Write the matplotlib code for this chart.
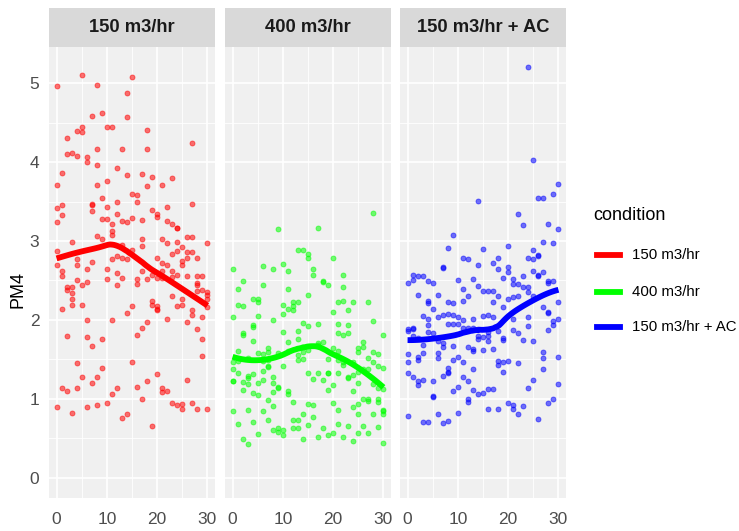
import numpy as np
import matplotlib
matplotlib.use("Agg")
import matplotlib.pyplot as plt
from matplotlib.lines import Line2D

# ---- data: PM4 readings over time (minutes) for each ventilation condition ----
conditions = ["150 m3/hr", "400 m3/hr", "150 m3/hr + AC"]
colors = ["#FF0000", "#00FF00", "#0000FF"]

time_150 = [5, 15, 0, 8, 14, 7, 9, 14, 10, 11, 4, 5, 5, 18, 2, 27, 8, 13, 18, 2, 3, 4, 6, 6,
            1, 8, 12, 14, 17, 19, 23, 0, 8, 10, 18, 21, 15, 16, 9, 0, 1, 7, 7, 10, 12, 16, 22, 27,
            1, 7, 12, 19, 20, 20, 0, 9, 10, 11, 13, 14, 15, 17, 22, 23, 24, 24, 11, 11, 8, 9, 17,
            21, 26, 27, 3, 22, 24, 30, 17, 0, 13, 15, 25, 24, 26, 27, 23, 20, 12, 13, 14, 11, 4,
            7, 0, 4, 21, 22, 25, 26, 28, 25,
            1, 1, 6, 10, 12, 17, 19, 21, 23, 24, 26, 28, 29, 4, 6, 5, 2, 2, 3, 3, 3, 3, 5, 10, 12,
            13, 16, 16, 18, 20, 21, 23, 28, 28, 29, 28, 30, 30, 30, 30, 23, 25, 25, 24, 19, 19, 20,
            20, 20, 15, 14, 1, 6, 11, 18, 17, 16, 22, 26, 27, 27, 29, 28, 29, 29, 2, 6, 7, 9, 4, 5,
            8, 7, 9, 15, 20, 18, 16, 21, 21, 22, 26, 1, 2, 4, 11, 12, 0, 3, 6, 8, 10, 13, 14, 17,
            19, 23, 24, 25, 25, 27, 28, 30]
pm4_150 = [5.11, 5.08, 4.96, 4.98, 4.88, 4.59, 4.62, 4.57, 4.44, 4.45, 4.40, 4.44, 4.38, 4.41,
           4.30, 4.24, 4.16, 4.16, 4.16, 4.10, 4.11, 4.08, 4.06, 4.00, 3.86, 3.96, 3.92, 3.84,
           3.85, 3.81, 3.80, 3.71, 3.71, 3.76, 3.70, 3.71, 3.60, 3.58, 3.54, 3.42, 3.46, 3.47,
           3.46, 3.43, 3.49, 3.49, 3.43, 3.47, 3.33, 3.38, 3.34, 3.39, 3.34, 3.30, 3.24, 3.28,
           3.28, 3.22, 3.25, 3.24, 3.29, 3.26, 3.25, 3.22, 3.17, 3.16, 3.12, 3.08, 3.06, 3.03,
           3.02, 3.02, 3.05, 3.05, 2.99, 2.97, 2.99, 2.98, 2.94, 2.87, 2.95, 2.88, 2.92, 2.87,
           2.86, 2.86, 2.84, 2.79, 2.81, 2.79, 2.77, 2.77, 2.77, 2.73, 2.70, 2.70, 2.72, 2.69,
           2.74, 2.78, 2.78, 2.69,
           2.62, 2.55, 2.64, 2.64, 2.60, 2.62, 2.57, 2.62, 2.62, 2.57, 2.56, 2.55, 2.56, 2.51,
           2.48, 2.44, 2.41, 2.38, 2.41, 2.34, 2.27, 2.19, 2.19, 2.52, 2.44, 2.53, 2.52, 2.46,
           2.52, 2.53, 2.53, 2.54, 2.47, 2.44, 2.38, 2.36, 2.35, 2.32, 2.27, 2.16, 2.30, 2.27,
           2.19, 2.18, 2.24, 2.19, 2.17, 2.14, 2.12, 2.17, 2.09, 2.14, 2.00, 2.00, 1.97, 1.90,
           1.81, 2.01, 1.97, 2.12, 2.06, 2.03, 1.88, 1.76, 1.54, 1.80, 1.78, 1.67, 1.76, 1.45,
           1.27, 1.28, 1.20, 1.39, 1.46, 1.31, 1.23, 1.15, 1.14, 1.09, 1.10, 1.24, 1.13, 1.10,
           1.14, 1.06, 1.13, 0.89, 0.82, 0.90, 0.92, 0.94, 0.75, 0.81, 1.00, 0.65, 0.95, 0.92,
           0.93, 0.87, 0.95, 0.87, 0.87]

time_400 = [28, 9, 17, 13, 14, 15, 15, 20, 0, 6, 8, 10, 11, 16, 16, 22, 2, 6, 18, 18, 19, 1, 11,
            22, 15, 4, 5, 5, 1, 2, 10, 12, 13, 12, 12, 11, 10, 21, 22, 24, 23, 27, 20, 0, 5, 8,
            28, 4, 4, 14, 15, 17, 21, 23, 13, 10, 2, 2, 21, 22, 23, 30, 4, 11, 13, 26, 1, 7, 7, 5,
            9, 11, 14, 15, 17, 17, 18, 20, 21, 25, 26, 28, 29, 3, 6, 6, 7, 10, 13, 14, 19, 13, 25,
            27, 28, 29, 30, 0, 0, 1, 1, 0, 0, 2, 2, 3, 3, 3, 4, 4, 5, 5, 6, 6, 7, 7, 8, 8, 8, 9, 9,
            11, 11, 15, 16, 17, 18, 19, 19, 20, 19, 21, 22, 23, 23, 24, 24, 25, 25, 26, 27, 24,
            21, 22, 28, 29, 30, 0, 1, 3, 4, 5, 6, 7, 8, 7, 8, 9, 9, 10, 10, 12, 12, 12, 13, 13,
            14, 14, 15, 15, 16, 16, 17, 18, 19, 20, 20, 21, 21, 22, 23, 24, 24, 25, 25, 25, 26,
            26, 27, 27, 27, 28, 29, 29, 29, 30, 30, 30, 30, 2, 3]
pm4_400 = [3.35, 3.15, 3.16, 2.89, 2.89, 2.83, 2.78, 2.78, 2.64, 2.68, 2.65, 2.71, 2.62, 2.65,
           2.57, 2.57, 2.49, 2.44, 2.49, 2.48, 2.44, 2.39, 2.39, 2.41, 2.31, 2.27, 2.27, 2.22,
           2.19, 2.18, 2.19, 2.22, 2.22, 2.17, 2.12, 2.14, 2.08, 2.23, 2.24, 2.23, 2.13, 2.23,
           2.10, 2.04, 2.05, 2.00, 1.98, 1.93, 1.91, 1.96, 1.92, 1.95, 1.95, 1.93, 1.86, 1.84,
           1.83, 1.81, 1.83, 1.81, 1.83, 1.81, 1.73, 1.72, 1.76, 1.72, 1.60, 1.64, 1.59, 1.58,
           1.58, 1.60, 1.59, 1.62, 1.71, 1.68, 1.72, 1.64, 1.60, 1.64, 1.65, 1.59, 1.57, 1.51,
           1.57, 1.48, 1.49, 1.42, 1.49, 1.50, 1.50, 1.55, 1.59, 1.52, 1.47, 1.42, 1.39, 1.46,
           1.38, 1.48, 1.32, 1.22, 1.23, 1.21, 1.11, 1.29, 1.26, 1.18, 1.31, 1.07, 1.20, 1.05,
           1.35, 1.24, 1.42, 1.40, 1.27, 1.20, 1.08, 1.14, 1.15, 1.10, 1.06, 1.33, 1.25, 1.33,
           1.24, 1.33, 1.32, 1.17, 1.11, 1.33, 1.43, 1.28, 1.26, 1.30, 1.10, 1.34, 1.20, 1.38,
           1.38, 1.46, 1.49, 1.46, 1.18, 1.13, 1.12, 0.84, 0.68, 0.86, 0.70, 0.55, 0.84, 0.73,
           0.91, 0.98, 0.60, 0.63, 0.58, 0.60, 0.54, 0.96, 0.73, 0.63, 0.73, 0.63, 0.81, 0.49,
           0.67, 0.93, 0.92, 0.77, 0.52, 0.63, 0.54, 0.57, 0.94, 0.86, 0.68, 0.52, 0.65, 0.90,
           0.46, 0.93, 0.80, 0.56, 1.00, 0.65, 1.00, 0.97, 0.57, 0.81, 0.99, 0.96, 0.64, 0.86,
           0.84, 0.81, 0.44, 0.49, 0.42]

time_ac = [24, 25, 30, 29, 26, 27, 14, 22, 23, 28, 30, 9, 27, 29, 8, 15, 20, 25, 11, 12, 18, 24,
           25, 26, 26, 14, 17, 7, 18, 20,
           20, 25, 26, 26, 27, 0, 1, 1, 2, 3, 4, 5, 7, 10, 13, 19, 21, 21, 22, 23, 23, 24, 24,
           28, 28, 29, 14, 11, 12, 2, 6, 4, 4, 5, 8, 9, 11, 15, 16, 17, 18, 17, 20, 21, 22, 19,
           25, 27, 28, 28, 30, 30, 29, 29, 28, 24, 24, 21, 21, 22, 23, 25, 19, 19, 0, 0, 1, 1, 3,
           4, 4, 4, 5, 6, 7, 8, 9, 10, 11, 10, 8, 9, 13, 15, 16, 17, 18, 11, 12, 13, 14, 14, 15,
           16, 16, 16, 17, 15, 13, 13, 12, 14, 7, 7, 9, 6, 3, 2, 1, 0, 0, 2, 2, 3, 6, 6, 10, 9,
           11, 18, 18, 19, 20, 19, 22, 27, 27, 27, 30, 8, 8, 7, 0, 1, 2, 2, 3, 5, 8, 11, 13, 12,
           10, 9, 13, 14, 15, 16, 17, 24, 25, 30, 5, 5, 12, 12, 16, 18, 20, 21, 21, 22, 23, 28,
           29, 0, 3, 4, 6, 7, 8, 10, 26]
pm4_ac = [5.20, 4.03, 3.72, 3.60, 3.54, 3.54, 3.51, 3.34, 3.20, 3.22, 3.15, 3.07, 2.99, 2.98,
          2.91, 2.90, 2.94, 2.89, 2.78, 2.77, 2.79, 2.79, 2.77, 2.82, 2.81, 2.70, 2.72, 2.67,
          2.65, 2.67,
          2.61, 2.62, 2.57, 2.55, 2.61, 2.47, 2.57, 2.51, 2.55, 2.56, 2.49, 2.47, 2.66, 2.51,
          2.52, 2.53, 2.52, 2.46, 2.46, 2.55, 2.41, 2.41, 2.35, 2.49, 2.47, 2.49, 2.43, 2.39,
          2.30, 2.32, 2.31, 2.24, 2.21, 2.14, 2.22, 2.21, 2.24, 2.36, 2.36, 2.36, 2.30, 2.23,
          2.26, 2.29, 2.30, 2.16, 2.30, 2.16, 2.10, 2.09, 2.23, 2.01, 1.99, 1.93, 1.87, 2.03,
          1.92, 2.01, 1.87, 1.83, 1.75, 1.73, 1.75, 1.77, 1.86, 1.88, 1.90, 1.88, 2.05, 2.01,
          1.93, 1.85, 1.83, 2.03, 2.06, 2.08, 2.06, 2.03, 2.00, 1.95, 1.95, 1.95, 2.01, 2.05,
          2.06, 2.03, 1.86, 1.89, 1.89, 1.89, 1.88, 1.80, 1.78, 1.85, 1.80, 1.73, 1.63, 1.62,
          1.63, 1.60, 1.66, 1.76, 1.70, 1.66, 1.67, 1.73, 1.68, 1.77, 1.79, 1.57, 1.46, 1.53,
          1.49, 1.58, 1.58, 1.51, 1.53, 1.49, 1.46, 1.48, 1.43, 1.46, 1.48, 1.34, 1.45, 1.59,
          1.51, 1.37, 1.53, 1.39, 1.34, 1.29, 1.32, 1.27, 1.23, 1.17, 1.24, 1.23, 1.32, 1.27,
          1.38, 1.22, 1.15, 1.10, 1.11, 1.06, 1.07, 1.12, 1.12, 1.14, 1.24, 1.19, 1.03, 1.02,
          0.99, 0.96, 0.87, 0.87, 0.94, 0.92, 0.87, 0.81, 0.91, 0.95, 1.00, 0.78, 0.71, 0.70,
          0.80, 0.69, 0.72, 0.82, 0.74]

series = [(time_150, pm4_150), (time_400, pm4_400), (time_ac, pm4_ac)]

x_ticks = [0, 10, 20, 30]
y_ticks = [0, 1, 2, 3, 4, 5]


def loess(x, y, grid, span=0.75):
    """Local quadratic regression with tricube weights (loess-style smoother)."""
    x = np.asarray(x, float)
    y = np.asarray(y, float)
    n = len(x)
    q = int(np.floor(n * span))
    out = []
    for x0 in grid:
        d = np.abs(x - x0)
        h = np.sort(d)[q - 1]
        h = max(h, 1e-9)
        w = np.clip(1 - (d / h) ** 3, 0, None) ** 3
        X = np.column_stack([np.ones(n), x - x0, (x - x0) ** 2])
        W = np.sqrt(w)
        beta, *_ = np.linalg.lstsq(X * W[:, None], y * W, rcond=None)
        out.append(beta[0])
    return np.array(out)


W_PX, H_PX = 739, 531
fig = plt.figure(figsize=(W_PX / 100, H_PX / 100), dpi=100)
fig.patch.set_facecolor("white")

narrow = ["Liberation Sans Narrow", "Liberation Sans", "DejaVu Sans"]
regular = ["Liberation Sans", "DejaVu Sans"]

panel_left = [49, 225, 400]
panel_w = 166
panel_top, panel_bottom = 47, 498
strip_top = 8


def px_rect(l, t, w, h):
    return [l / W_PX, 1 - (t + h) / H_PX, w / W_PX, h / H_PX]


for i, (name, col, (tx, ty)) in enumerate(zip(conditions, colors, series)):
    ax = fig.add_axes(px_rect(panel_left[i], panel_top, panel_w, panel_bottom - panel_top))
    ax.set_facecolor("#F0F0F0")
    for s in ax.spines.values():
        s.set_visible(False)
    ax.set_xlim(-1.5, 31.5)
    ax.set_ylim(-0.26, 5.46)
    ax.set_xticks(x_ticks)
    ax.set_xticks([5, 15, 25], minor=True)
    ax.set_yticks(y_ticks)
    ax.set_yticks([0.5, 1.5, 2.5, 3.5, 4.5], minor=True)
    ax.grid(which="major", color="white", linewidth=1.2)
    ax.grid(which="minor", color="white", linewidth=0.6)
    ax.set_axisbelow(True)
    ax.tick_params(which="both", length=0)
    ax.tick_params(axis="x", pad=10, labelsize=12.5, labelcolor="#4D4D4D")
    ax.tick_params(axis="y", pad=7, labelsize=12.5, labelcolor="#4D4D4D")
    for lab in ax.get_xticklabels() + ax.get_yticklabels():
        lab.set_fontfamily(narrow)
    if i > 0:
        ax.tick_params(axis="y", labelleft=False)

    ax.scatter(tx, ty, s=13, color=col, alpha=0.55, linewidths=0.6, edgecolors=col, zorder=3)
    grid = np.linspace(min(tx), max(tx), 80)
    ax.plot(grid, loess(tx, ty, grid), color=col, linewidth=4.2, solid_capstyle="butt", zorder=4)

    sax = fig.add_axes(px_rect(panel_left[i], strip_top, panel_w, panel_top - strip_top))
    sax.set_facecolor("#D9D9D9")
    sax.set_xticks([])
    sax.set_yticks([])
    for s in sax.spines.values():
        s.set_visible(False)
    sax.text(0.5, 0.5, name, ha="center", va="center", fontsize=13.2, fontweight="bold",
             family=narrow, color="#1A1A1A", transform=sax.transAxes)

fig.text(18 / W_PX, 1 - 290 / H_PX, "PM4", rotation=90, ha="center", va="center",
         fontsize=13, family=regular, color="black")

# legend
fig.text(593 / W_PX, 1 - 216 / H_PX, "condition", ha="left", va="center",
         fontsize=13, family=regular, color="black")
legend_y = [255, 292, 327]
for name, col, yy in zip(conditions, colors, legend_y):
    yf = 1 - yy / H_PX
    fig.add_artist(Line2D([597 / W_PX, 620 / W_PX], [yf, yf], color=col, linewidth=4.2,
                          transform=fig.transFigure))
    fig.text(632 / W_PX, yf, name, ha="left", va="center", fontsize=10.8, family=regular,
             color="black")

fig.savefig("out.png", dpi=100, facecolor="white")
